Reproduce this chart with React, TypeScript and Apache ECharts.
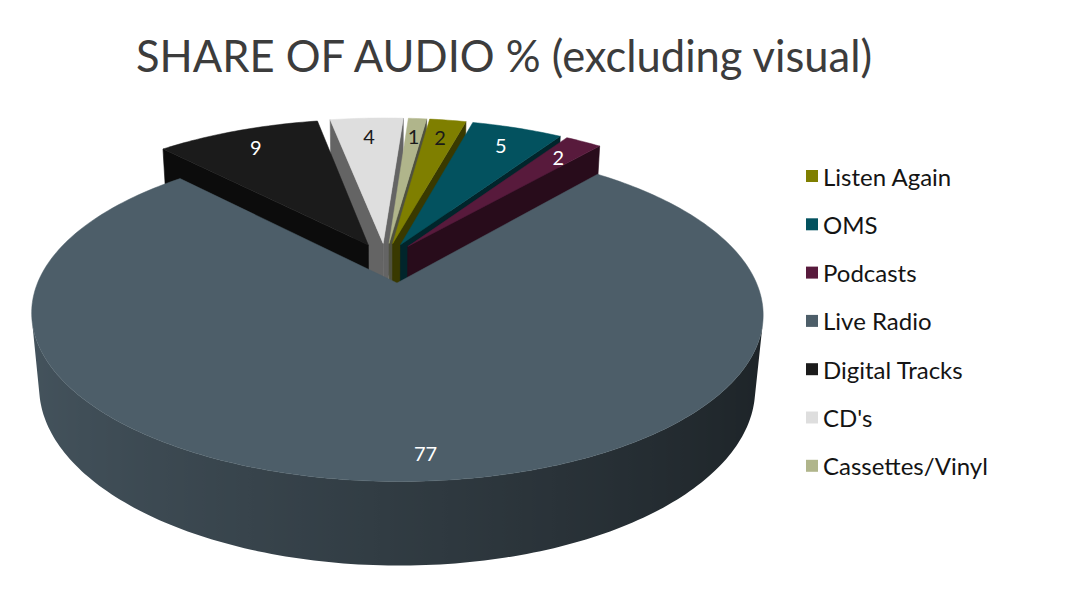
import React, { useEffect, useRef } from "react";
import * as echarts from "echarts";

const titleText = "SHARE OF AUDIO % (excluding visual)";
const categories = ["Listen Again", "OMS", "Podcasts", "Live Radio", "Digital Tracks", "CD's", "Cassettes/Vinyl"];
const values = [2, 5, 2, 77, 9, 4, 1];
const sliceColors = ["#7f7f00", "#03525f", "#581a3c", "#4d5e69", "#1b1b1b", "#dedede", "#b0b58b"];
const labelColors = ["#1a1a1a", "#ffffff", "#ffffff", "#ffffff", "#ffffff", "#1a1a1a", "#1a1a1a"];

const DEG = Math.PI / 180;
const G = {
  apexX: 397,
  apexY: 283,
  cx: 0,
  cy: 0,
  S: 350,
  phi: 26 * DEG,
  D: 5.0,
  t: 0.232,
  start: 82.5,
  explode: 0.11,
  explodeBig: 0.15,
  explodeBigTurn: 11,
  labelR: 0.84,
  labelRBig: 0.88,
  labelTurnBig: 2.5,
};

function rawProject(x: number, y: number, z: number): number[] {
  const c = Math.cos(G.phi);
  const s = Math.sin(G.phi);
  const v = y * c - z * s;
  const w = z * c + y * s;
  const k = G.D / (G.D - w);
  return [G.S * x * k, -G.S * v * k];
}
function project(x: number, y: number, z: number): number[] {
  const p = rawProject(x, y, z);
  return [G.cx + p[0], G.cy + p[1]];
}

const total = values.reduce((a, b) => a + b, 0);
function sliceAngles(idx: number) {
  let cum = 0;
  for (let i = 0; i < idx; i++) cum += values[i];
  const a0 = G.start - (360 * cum) / total;
  const a1 = a0 - (360 * values[idx]) / total;
  return { a0, a1, mid: (a0 + a1) / 2, big: values[idx] > total / 2 };
}
function explodeOffset(idx: number): number[] {
  const { mid, big } = sliceAngles(idx);
  const dir = big ? mid + G.explodeBigTurn : mid;
  const e = big ? G.explodeBig : G.explode;
  return [e * Math.cos(dir * DEG), -e * Math.sin(dir * DEG)];
}

// place the chart so that the big slice's apex sits at apexX/apexY
(function fitCenter() {
  const bigIdx = values.indexOf(Math.max(...values));
  const [ox, oz] = explodeOffset(bigIdx);
  const p = rawProject(ox, 0, oz);
  G.cx = G.apexX - p[0];
  G.cy = G.apexY - p[1];
})();

function shade(hex: string, f: number): string {
  const h = hex.replace("#", "");
  const r = parseInt(h.slice(0, 2), 16);
  const g = parseInt(h.slice(2, 4), 16);
  const b = parseInt(h.slice(4, 6), 16);
  const cl = (n: number) => Math.max(0, Math.min(255, Math.round(n * f)));
  return `rgb(${cl(r)},${cl(g)},${cl(b)})`;
}

const wallFactor = (th: number) => 0.63 - 0.26 * Math.cos(th * DEG);

function makeRenderItem(idx: number) {
  return (params: any, api: any) => {
    const v = api.value(0) as number;
    const { a0, mid, big } = sliceAngles(idx);
    const a1 = a0 - (360 * v) / total;
    const [ox, oz] = explodeOffset(idx);
    const P = (th: number, r: number, y: number) =>
      project(ox + r * Math.cos(th * DEG), y, oz - r * Math.sin(th * DEG));
    const camZ = G.D * Math.cos(G.phi);
    const visible = (nAng: number, px: number, pz: number) => {
      const nx = Math.cos(nAng * DEG);
      const nz = -Math.sin(nAng * DEG);
      return nx * (0 - px) + nz * (camZ - pz) > 0;
    };
    const color = sliceColors[idx];
    const children: any[] = [];
    // radial faces
    [
      { a: a0, n: a0 + 90 },
      { a: a1, n: a1 - 90 },
    ].forEach((fc) => {
      const px = ox + 0.5 * Math.cos(fc.a * DEG);
      const pz = oz - 0.5 * Math.sin(fc.a * DEG);
      if (visible(fc.n, px, pz)) {
        const col = shade(color, 0.45);
        children.push({
          type: "polygon",
          shape: { points: [P(fc.a, 0, 0), P(fc.a, 1, 0), P(fc.a, 1, -G.t), P(fc.a, 0, -G.t)] },
          style: { fill: col, stroke: col, lineWidth: 0.6 },
        });
      }
    });
    // outer wall, merged into runs of visible segments with a gradient fill
    const steps = Math.max(2, Math.ceil((a0 - a1) / 1));
    const runs: number[][] = [];
    let cur: number[] | null = null;
    for (let k = 0; k < steps; k++) {
      const t1 = a1 + ((a0 - a1) * k) / steps;
      const t2 = a1 + ((a0 - a1) * (k + 1)) / steps;
      const tm = (t1 + t2) / 2;
      const px = ox + Math.cos(tm * DEG);
      const pz = oz - Math.sin(tm * DEG);
      if (visible(tm, px, pz)) {
        if (!cur) {
          cur = [t1];
          runs.push(cur);
        }
        cur.push(t2);
      } else {
        cur = null;
      }
    }
    runs.forEach((run) => {
      const topPts = run.map((th) => P(th, 1, 0));
      const botPts = run.map((th) => P(th, 1, -G.t)).reverse();
      const xs = topPts.concat(botPts).map((p) => p[0]);
      const minX = Math.min(...xs);
      const maxX = Math.max(...xs);
      const span = Math.max(1, maxX - minX);
      const stops = run
        .map((th, i) => ({
          offset: Math.max(0, Math.min(1, (topPts[i][0] - minX) / span)),
          color: shade(color, wallFactor(th)),
        }))
        .sort((a, b) => a.offset - b.offset);
      const fill = new echarts.graphic.LinearGradient(0, 0, 1, 0, stops);
      children.push({
        type: "polygon",
        shape: { points: topPts.concat(botPts) },
        style: { fill, lineWidth: 0 },
      });
    });
    // top face
    const pts: number[][] = [P(mid, 0, 0)];
    for (let k = 0; k <= steps; k++) {
      const th = a0 - ((a0 - a1) * k) / steps;
      pts.push(P(th, 1, 0));
    }
    children.push({
      type: "polygon",
      shape: { points: pts },
      style: { fill: color, stroke: color, lineWidth: 0.5 },
    });
    const lp = big ? P(mid + G.labelTurnBig, G.labelRBig, 0) : P(mid, G.labelR, 0);
    children.push({
      type: "text",
      x: lp[0],
      y: lp[1],
      style: {
        text: String(v),
        fill: labelColors[idx],
        fontFamily: "Lato",
        fontSize: 20,
        align: "center",
        verticalAlign: "middle",
      },
    });
    return { type: "group", children };
  };
}

export default function App() {
  const ref = useRef<HTMLDivElement>(null);
  useEffect(() => {
    if (!ref.current) return;
    const chart = echarts.init(ref.current, undefined, { renderer: "svg" });
    // draw order: farthest slices first
    const order = categories
      .map((_, i) => ({ i, depth: Math.sin(sliceAngles(i).mid * DEG) }))
      .sort((a, b) => b.depth - a.depth)
      .map((o) => o.i);
    const series = order.map((i) => ({
      type: "custom",
      name: categories[i],
      coordinateSystem: "none",
      silent: true,
      itemStyle: { color: sliceColors[i] },
      data: [{ name: categories[i], value: [values[i]] }],
      renderItem: makeRenderItem(i),
    }));
    chart.setOption({
      animation: false,
      backgroundColor: "#ffffff",
      title: {
        text: titleText,
        left: 136,
        top: 33,
        padding: 0,
        textStyle: { fontFamily: "Lato", fontSize: 43.5, fontWeight: "normal", color: "#3c3c3c" },
      },
      legend: {
        orient: "vertical",
        left: 806,
        top: 164,
        padding: 0,
        data: categories,
        icon: "rect",
        itemWidth: 12,
        itemHeight: 12,
        itemGap: 24.3,
        selectedMode: false,
        textStyle: { fontFamily: "Lato", fontSize: 24, color: "#141414", lineHeight: 24 },
      },
      series,
    });
    return () => chart.dispose();
  }, []);
  return <div ref={ref} style={{ position: "fixed", left: 0, top: 0, width: 1087, height: 608 }} />;
}
